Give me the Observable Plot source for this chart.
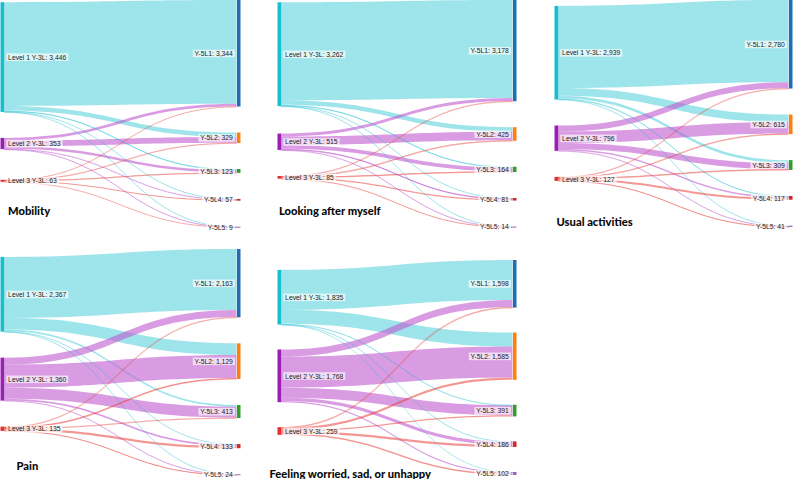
<!DOCTYPE html>
<html><head><meta charset="utf-8">
<script src="https://cdn.jsdelivr.net/npm/d3@7"></script>
<script src="https://cdn.jsdelivr.net/npm/@observablehq/plot@0.6"></script>
<style>
body{margin:0;background:#fff;}
#root{position:relative;width:793px;height:479px;overflow:hidden;}
.panel{position:absolute;}
.panel svg{overflow:visible;display:block;}
.title{position:absolute;font-family:Lato,"Open Sans",sans-serif;font-weight:900;font-size:11.2px;line-height:11px;color:#0a0a0a;white-space:nowrap;}
</style></head><body><div id="root"></div>
<script>
// ---- data ----
const panelTitles = ["Mobility", "Looking after myself", "Usual activities", "Pain", "Feeling worried, sad, or unhappy"];
const sourceLabels = ["Level 1 Y-3L", "Level 2 Y-3L", "Level 3 Y-3L"];
const targetLabels = ["Y-5L1", "Y-5L2", "Y-5L3", "Y-5L4", "Y-5L5"];
// flows: rows = 3L level (1..3), columns = 5L level (1..5)
const mobility           = [[3260, 140, 30, 12, 4], [80, 180, 78, 13, 2], [4, 9, 15, 32, 3]];
const lookingAfterMyself = [[3080, 140, 26, 12, 4], [90, 272, 118, 31, 4], [8, 13, 20, 38, 6]];
const usualActivities    = [[2580, 240, 90, 19, 10], [190, 355, 195, 41, 15], [10, 20, 24, 57, 16]];
const pain               = [[1930, 370, 50, 13, 4], [220, 730, 350, 55, 5], [13, 29, 13, 65, 15]];
const feelingWorried     = [[1340, 470, 15, 6, 4], [240, 1040, 336, 112, 40], [18, 75, 40, 68, 58]];
const panelFlows = [mobility, lookingAfterMyself, usualActivities, pain, feelingWorried];

// ---- styles ----
const sourceNodeColors = ["#17becf", "#9c1fb4", "#e3312c"];
const targetNodeColors = ["#1f6db2", "#ff7f0e", "#2ca02c", "#d62728", "#9467bd"];
const linkColors = ["rgba(23,190,207,0.42)", "rgba(192,90,206,0.6)", "rgba(232,65,58,0.55)"];
const frames = [
  {left: 0,   top: 0,   width: 240, height: 227, pad: 26},
  {left: 277, top: 0,   width: 239, height: 227, pad: 26},
  {left: 554, top: 0,   width: 238, height: 227, pad: 26},
  {left: 0,   top: 249, width: 240, height: 226, pad: 26},
  {left: 277, top: 260, width: 239, height: 215, pad: 25}
];
const titleBaselines = [[8, 215], [279, 214.5], [556.5, 225.5], [16.5, 470], [269.5, 477.5]];
const nodeW = 3.6;
const fmt = d3.format(",");

function layout(flows, H, pad) {
  const nS = flows.length, nT = flows[0].length;
  const sTot = flows.map(r => d3.sum(r));
  const tTot = d3.range(nT).map(j => d3.sum(flows, r => r[j]));
  const total = d3.sum(sTot);
  const ky = (H - (nT - 1) * pad) / total;
  const padU = pad / ky, D = H / ky;
  let y = 0;
  const targets = tTot.map((v, j) => { const n = {i: j, value: v, y0: y, y1: y + v}; y += v + padU; return n; });
  const sources = flows.map((row, i) => {
    let num = 0, den = 0;
    row.forEach((v, j) => {
      const above = d3.sum(flows.slice(0, i), r => r[j]);
      const before = d3.sum(row.slice(0, j));
      num += v * (targets[j].y0 + above - before); den += v;
    });
    return {i, value: sTot[i], y0: num / den};
  });
  let prev = 0;
  sources.forEach((n, k) => { n.y0 = Math.max(n.y0, k === 0 ? 0 : prev + padU); n.y1 = n.y0 + n.value; prev = n.y1; });
  let bottom = D;
  for (let k = nS - 1; k >= 0; k--) {
    const n = sources[k];
    if (n.y1 > bottom) { const s = n.y1 - bottom; n.y0 -= s; n.y1 -= s; }
    bottom = n.y0 - padU;
  }
  const links = [], bands = [];
  flows.forEach((row, i) => row.forEach((v, j) => {
    if (!v) return;
    const sTop = sources[i].y0 + d3.sum(row.slice(0, j));
    const tTop = targets[j].y0 + d3.sum(flows.slice(0, i), r => r[j]);
    const id = i * 10 + j;
    links.push({id, s: i, t: j, value: v, sy: sTop + v / 2, ty: tTop + v / 2});
    bands.push({id, s: i, x: 0, top: sTop, bot: sTop + v});
    bands.push({id, s: i, x: 1, top: tTop, bot: tTop + v});
  }));
  return {sources, targets, links, bands, ky, D};
}

function addBoxes(svg) {
  svg.querySelectorAll('g[aria-label="text"] text').forEach(t => {
    const b = t.getBBox();
    const r = document.createElementNS("http://www.w3.org/2000/svg", "rect");
    r.setAttribute("x", b.x - 1.8);
    r.setAttribute("y", b.y - 0.3);
    r.setAttribute("width", b.width + 3.6);
    r.setAttribute("height", b.height + 0.6);
    r.setAttribute("fill", "#fff");
    r.setAttribute("fill-opacity", "0.65");
    r.setAttribute("stroke", "none");
    if (t.getAttribute("transform")) r.setAttribute("transform", t.getAttribute("transform"));
    t.parentNode.insertBefore(r, t);
  });
}

const root = document.getElementById("root");
panelFlows.forEach((flows, p) => {
  const f = frames[p];
  const {sources, targets, links, bands, ky, D} = layout(flows, f.height, f.pad);
  const minU = 1 / ky;
  const thin = links.filter(d => d.value * ky < 1);
  const chart = Plot.plot({
    width: f.width, height: f.height,
    margin: 0, marginLeft: nodeW, marginRight: nodeW,
    x: {domain: [0, 1], axis: null},
    y: {domain: [0, D], range: [0, f.height], axis: null},
    color: {type: "identity"},
    style: {fontFamily: "'Liberation Sans', Arial, sans-serif", background: "transparent", overflow: "visible"},
    marks: [
      Plot.area(bands, {x1: "x", y1: "top", y2: "bot", z: "id", curve: "bump-x",
        fill: d => linkColors[d.s]}),
      Plot.link(thin, {x1: d => 0, x2: d => 1, y1: "sy", y2: "ty", curve: "bump-x",
        stroke: d => linkColors[d.s], strokeWidth: 0.8}),
      Plot.ruleX(sources, {x: d => 0, y1: "y0", y2: d => Math.max(d.y1, d.y0 + minU),
        stroke: d => sourceNodeColors[d.i], strokeWidth: nodeW, dx: -nodeW / 2}),
      Plot.ruleX(targets, {x: d => 1, y1: "y0", y2: d => Math.max(d.y1, d.y0 + minU),
        stroke: d => targetNodeColors[d.i], strokeWidth: nodeW, dx: nodeW / 2}),
      Plot.text(sources, {x: d => 0, y: d => (d.y0 + d.y1) / 2,
        text: d => `${sourceLabels[d.i]}: ${fmt(d.value)}`,
        dx: 4, textAnchor: "start", fontSize: 6.8, fill: "#1a1a1a"}),
      Plot.text(targets, {x: d => 1, y: d => (d.y0 + d.y1) / 2,
        text: d => `${targetLabels[d.i]}: ${fmt(d.value)}`,
        dx: -4, textAnchor: "end", fontSize: 6.8, fill: "#1a1a1a"})
    ]
  });
  const div = document.createElement("div");
  div.className = "panel";
  div.style.left = f.left + "px";
  div.style.top = f.top + "px";
  div.appendChild(chart);
  root.appendChild(div);
  addBoxes(chart);

  const t = document.createElement("div");
  t.className = "title";
  t.textContent = panelTitles[p];
  t.style.left = titleBaselines[p][0] + "px";
  t.style.top = (titleBaselines[p][1] - 9.8) + "px";
  root.appendChild(t);
});
</script></body></html>
